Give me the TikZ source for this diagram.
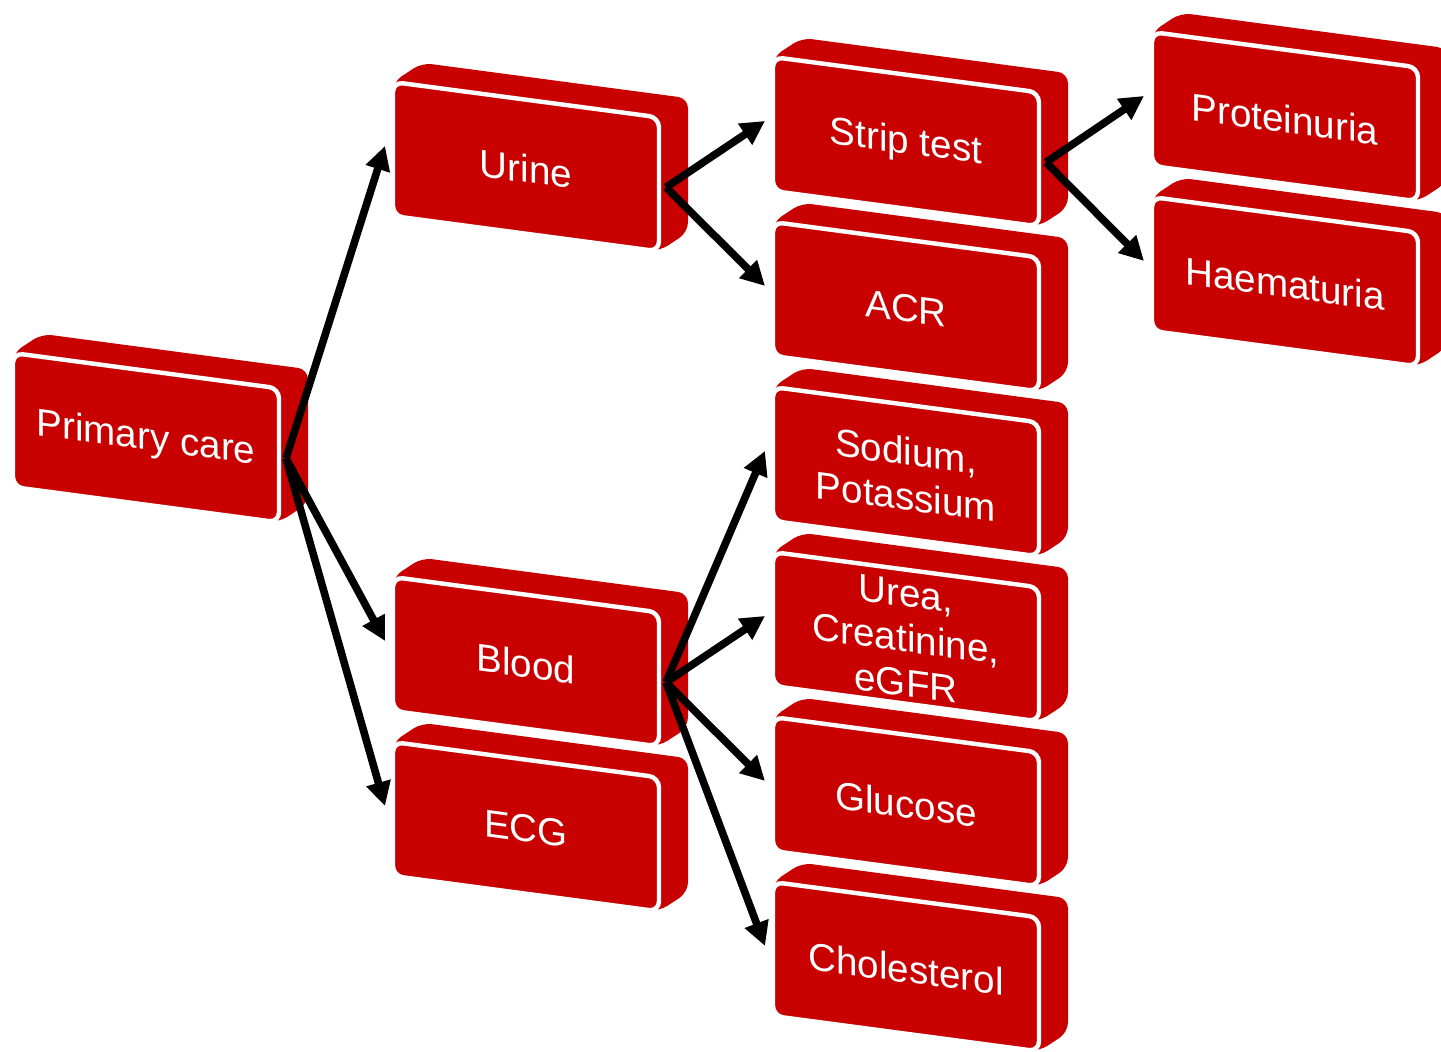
\documentclass[tikz,border=0pt]{standalone}
\usepackage{fontspec}
\setmainfont{Liberation Sans}
\usetikzlibrary{arrows.meta}
\definecolor{boxred}{RGB}{200,0,0}

\tikzset{
    boxside/.style={fill=boxred, rounded corners=5pt},
    boxfront/.style={fill=boxred, draw=white, line width=2.2pt, rounded corners=5pt},
    boxtext/.style={text=white, font=\fontsize{19.3}{22.5}\selectfont, align=center, transform shape},
    link/.style={line width=3.8pt, -{Triangle[length=12pt,width=12pt]}}
}

% slanted 3d box, front face top left corner at (#2,#3)
\newcommand{\testbox}[4]{%
    \begin{scope}[shift={(#2,#3)}, yslant=-0.133]
        \fill[boxside] (0,0) -- (29,-23) -- (295,-23) -- (295,111) -- (266,134) -- (0,134) -- cycle;
        \draw[boxfront] (0,0) rectangle (266,134);
        \node[boxtext] (#1) at (133,69) {#4};
        \coordinate (#1-in) at (-8,65);
        \coordinate (#1-out) at (273,69);
    \end{scope}}

\begin{document}
\begin{tikzpicture}[x=0.5pt, y=-0.5pt]
    \useasboundingbox (0,0) rectangle (1441,1051);

    \testbox{chol}{773}{882}{Cholesterol}
    \testbox{glucose}{773}{717}{Glucose}
    \testbox{urea}{773}{552}{Urea,\\Creatinine,\\eGFR}
    \testbox{sodium}{773}{387}{Sodium,\\Potassium}
    \testbox{acr}{773}{222}{ACR}
    \testbox{strip}{773}{57}{Strip test}

    \testbox{haem}{1152}{197}{Haematuria}
    \testbox{prot}{1152}{32}{Proteinuria}

    \testbox{ecg}{393}{742}{ECG}
    \testbox{blood}{393}{577}{Blood}
    \testbox{urine}{393}{82}{Urine}

    \testbox{pc}{13}{353}{Primary care}

    \draw[link] (pc-out) -- (urine-in);
    \draw[link] (pc-out) -- (blood-in);
    \draw[link] (pc-out) -- (ecg-in);

    \draw[link] (urine-out) -- (strip-in);
    \draw[link] (urine-out) -- (acr-in);

    \draw[link] (strip-out) -- (prot-in);
    \draw[link] (strip-out) -- (haem-in);

    \draw[link] (blood-out) -- (sodium-in);
    \draw[link] (blood-out) -- (urea-in);
    \draw[link] (blood-out) -- (glucose-in);
    \draw[link] (blood-out) -- (chol-in);
\end{tikzpicture}
\end{document}
